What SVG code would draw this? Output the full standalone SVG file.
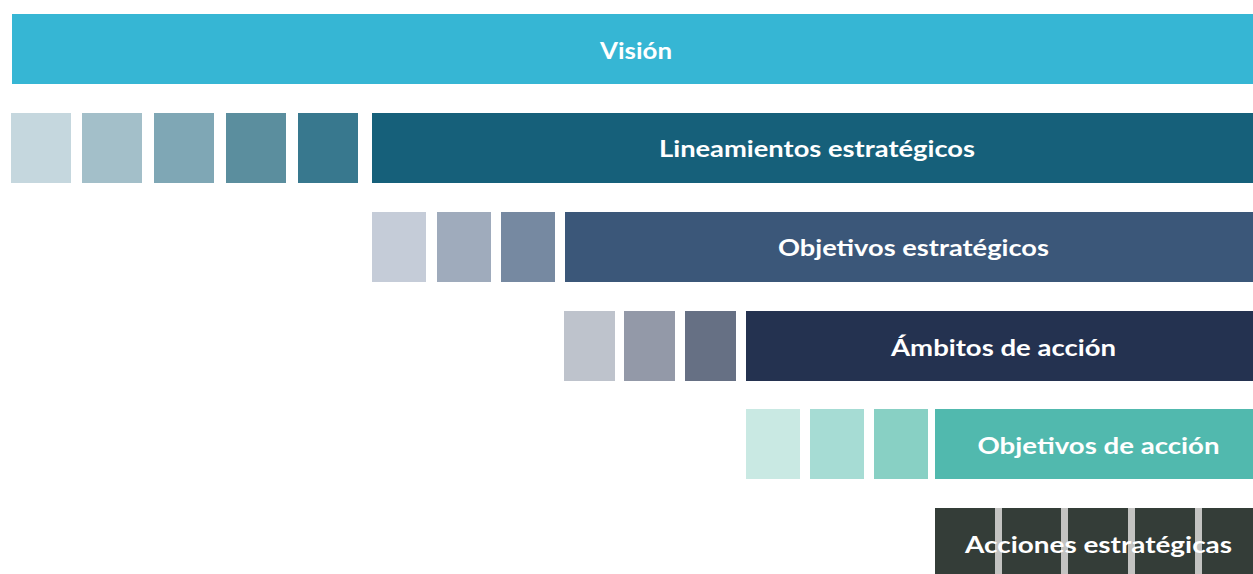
<svg xmlns="http://www.w3.org/2000/svg" width="1253" height="574" viewBox="0 0 1253 574">
<style>
.t{font-family:Lato,"Open Sans","Liberation Sans",sans-serif;font-weight:700;font-size:23px;fill:#ffffff;text-anchor:middle}
</style>
<rect width="1253" height="574" fill="#ffffff"/>
<g id="vision">
<rect x="12" y="14" width="1241" height="70" fill="#36B6D4"/>
<text class="t" x="636" y="59" textLength="72" lengthAdjust="spacingAndGlyphs">Visión</text>
</g>
<g id="lineamientos">
<rect x="11" y="113" width="60" height="70" fill="#C5D7DE"/>
<rect x="82" y="113" width="60" height="70" fill="#A3BFC9"/>
<rect x="154" y="113" width="60" height="70" fill="#7FA7B5"/>
<rect x="226" y="113" width="60" height="70" fill="#5B8E9E"/>
<rect x="298" y="113" width="60" height="70" fill="#38788E"/>
<rect x="372" y="113" width="881" height="70" fill="#16607A"/>
<text class="t" x="817" y="157" textLength="316" lengthAdjust="spacingAndGlyphs">Lineamientos estratégicos</text>
</g>
<g id="objetivos-estrategicos">
<rect x="372" y="212" width="54" height="70" fill="#C5CCD8"/>
<rect x="437" y="212" width="54" height="70" fill="#9FABBC"/>
<rect x="501" y="212" width="54" height="70" fill="#7689A1"/>
<rect x="565" y="212" width="688" height="70" fill="#3B5779"/>
<text class="t" x="913.5" y="256" textLength="271" lengthAdjust="spacingAndGlyphs">Objetivos estratégicos</text>
</g>
<g id="ambitos">
<rect x="564" y="311" width="51" height="70" fill="#BEC3CC"/>
<rect x="624" y="311" width="51" height="70" fill="#9399A8"/>
<rect x="685" y="311" width="51" height="70" fill="#667084"/>
<rect x="746" y="311" width="507" height="70" fill="#243250"/>
<text class="t" x="1003.5" y="356" textLength="225" lengthAdjust="spacingAndGlyphs">Ámbitos de acción</text>
</g>
<g id="objetivos-accion">
<rect x="746" y="409" width="54" height="70" fill="#C9E9E3"/>
<rect x="810" y="409" width="54" height="70" fill="#A6DCD4"/>
<rect x="874" y="409" width="54" height="70" fill="#88D0C4"/>
<rect x="935" y="409" width="318" height="70" fill="#51B9AE"/>
<text class="t" x="1098.5" y="454" textLength="242" lengthAdjust="spacingAndGlyphs">Objetivos de acción</text>
</g>
<g id="acciones">
<rect x="935" y="508" width="318" height="66" fill="#343D38"/>
<rect x="995" y="508" width="7" height="66" fill="#C3C3C1"/>
<rect x="1061" y="508" width="7" height="66" fill="#C3C3C1"/>
<rect x="1128" y="508" width="7" height="66" fill="#C3C3C1"/>
<rect x="1195" y="508" width="7" height="66" fill="#C3C3C1"/>
<text class="t" x="1098.5" y="553" textLength="267" lengthAdjust="spacingAndGlyphs">Acciones estratégicas</text>
</g>
<g id="connectors"></g>
</svg>
